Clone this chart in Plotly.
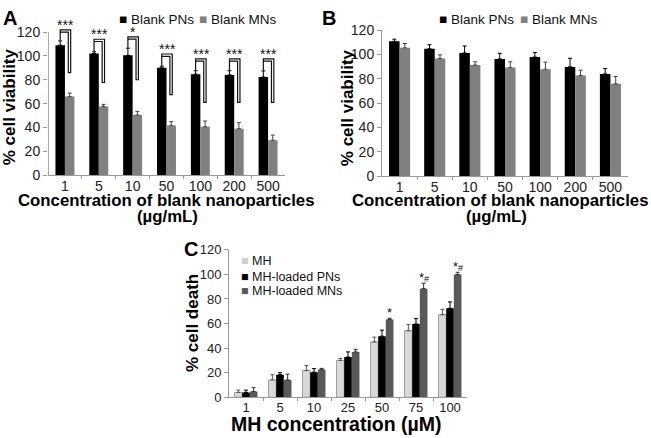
import plotly.graph_objects as go

# ---------------- data ----------------
conc_ab = ["1", "5", "10", "50", "100", "200", "500"]
a_pn = [109, 102, 100.5, 90, 84.7, 84.1, 82.3]
a_pn_err = [3.6, 1.5, 6, 1.4, 2.9, 3.5, 5.1]
a_mn = [65.9, 57.5, 50.5, 41.7, 40.6, 39, 29.3]
a_mn_err = [2.9, 1.9, 3, 3.2, 4.8, 5, 4.3]
a_sig = ["***", "***", "*", "***", "***", "***", "***"]
a_bracket_top = [121.8, 114, 116, 101.6, 97.5, 97.5, 97.5]
a_bracket_end = [86, 77.7, 80, 67.5, 61, 61, 61]

b_pn = [110.8, 104.7, 101.3, 96.3, 97.9, 89.8, 84]
b_pn_err = [1.8, 3.3, 5.7, 4.7, 3.7, 7.1, 4.5]
b_mn = [105.5, 96.6, 91.3, 89.2, 87.9, 82.7, 75.9]
b_mn_err = [3.5, 3.1, 2.7, 4.8, 5.8, 4.4, 6]

conc_c = ["1", "5", "10", "25", "50", "75", "100"]
c_mh = [3.9, 14.1, 21.7, 30, 45, 54.1, 67.2]
c_mh_err = [1.9, 4.2, 4.2, 1.6, 3.9, 5, 4.4]
c_pn = [3.9, 18.3, 20.4, 32.7, 49.7, 59.6, 72.4]
c_pn_err = [1.9, 1.7, 2.9, 4.2, 4.9, 4.4, 5.2]
c_mn = [4.7, 14.1, 22.5, 36.9, 63.3, 88.4, 99.9]
c_mn_err = [3.1, 4.7, 1, 2.1, 1, 4.4, 1.8]
c_sig = ["", "", "", "", "*", "*<span style='font-size:9px'>#</span>", "*<span style='font-size:9px'>#</span>"]

FONT = "Liberation Sans, Arial, sans-serif"
AX = "#9a9a9a"
W, H = 651, 438

def err(vals, color="#222"):
    return dict(type="data", symmetric=False, array=vals, arrayminus=[0] * len(vals),
                thickness=1, width=2, color=color)

fig = go.Figure()
xs = list(range(7))

# Panel A
wA = 0.28
fig.add_bar(x=xs, y=a_pn, width=wA, offset=-wA, marker=dict(color="#000", line_width=0),
            error_y=err(a_pn_err, "#000"), xaxis="x", yaxis="y", name="Blank PNs", showlegend=False)
fig.add_bar(x=xs, y=a_mn, width=wA, offset=0, marker=dict(color="#808080", line_width=0),
            error_y=err(a_mn_err, "#444"), xaxis="x", yaxis="y", name="Blank MNs", showlegend=False)

# Panel B
wB = 0.30
fig.add_bar(x=xs, y=b_pn, width=wB, offset=-wB, marker=dict(color="#000", line_width=0),
            error_y=err(b_pn_err, "#000"), xaxis="x2", yaxis="y2", name="Blank PNs", showlegend=False)
fig.add_bar(x=xs, y=b_mn, width=wB, offset=0, marker=dict(color="#808080", line_width=0),
            error_y=err(b_mn_err, "#444"), xaxis="x2", yaxis="y2", name="Blank MNs", showlegend=False)

# Panel C
wC = 0.225
fig.add_bar(x=xs, y=c_mh, width=wC, offset=-1.5 * wC, marker=dict(color="#d9d9d9", line=dict(color="#8c8c8c", width=0.8)),
            error_y=err(c_mh_err, "#555"), xaxis="x3", yaxis="y3", name="MH", showlegend=False)
fig.add_bar(x=xs, y=c_pn, width=wC, offset=-0.5 * wC, marker=dict(color="#000", line_width=0),
            error_y=err(c_pn_err, "#000"), xaxis="x3", yaxis="y3", name="MH-loaded PNs", showlegend=False)
fig.add_bar(x=xs, y=c_mn, width=wC, offset=0.5 * wC, marker=dict(color="#595959", line_width=0),
            error_y=err(c_mn_err, "#333"), xaxis="x3", yaxis="y3", name="MH-loaded MNs", showlegend=False)

shapes = []
annotations = []

# significance brackets in A (hollow, outlined look)
dy_in = 1.9
dx_in = 0.07
for i in xs:
    xl = i - wA / 2
    xr = i + wA / 2 + 0.03
    ybot = a_pn[i] + a_pn_err[i] + 0.3
    top = a_bracket_top[i]
    end = a_bracket_end[i]
    shapes.append(dict(type="path", xref="x", yref="y",
                       path=f"M {xl},{ybot} L {xl},{top} L {xr},{top} L {xr},{end} L {xr - dx_in},{end} "
                            f"L {xr - dx_in},{top - dy_in} L {xl},{top - dy_in}",
                       line=dict(color="#111", width=1.2)))
    annotations.append(dict(x=i + 0.02, y=top + 4, xref="x", yref="y", text=a_sig[i], showarrow=False,
                            font=dict(size=14, color="#111", family=FONT), xanchor="center", yanchor="middle"))

# A y-axis line (only up to 120)
shapes.append(dict(type="line", xref="x", yref="y", x0=-0.49, x1=-0.49, y0=0, y1=120,
                   line=dict(color=AX, width=1)))

# significance marks in C
for i in xs:
    if c_sig[i]:
        annotations.append(dict(x=i + wC, y=c_mn[i] + c_mn_err[i] + 5, xref="x3", yref="y3",
                                text=c_sig[i], showarrow=False, xanchor="center", yanchor="middle",
                                font=dict(size=13, color="#111", family=FONT)))

def px(x):
    return x / W

def py(y):
    return 1 - y / H

def txt(t, x, y, size, angle=0, xanchor="center"):
    annotations.append(dict(x=px(x), y=py(y), xref="paper", yref="paper", text=t,
                            xanchor=xanchor, yanchor="middle", textangle=angle,
                            showarrow=False, font=dict(size=size, family=FONT, color="#000")))

# panel letters
txt("<b>A</b>", 10, 10, 20)
txt("<b>B</b>", 329, 10, 20)
txt("<b>C</b>", 191, 250, 20)

# y-axis titles
txt("<b>% cell viability</b>", 9, 103, 17, -90)
txt("<b>% cell viability</b>", 347, 104, 17, -90)
txt("<b>% cell death</b>", 192, 327, 17, -90)

# x-axis titles
txt("<b>Concentration of blank nanoparticles</b>", 166, 200, 16.8)
txt("<b>(µg/mL)</b>", 167, 216, 16.8)
txt("<b>Concentration of blank nanoparticles</b>", 500, 200, 16.8)
txt("<b>(µg/mL)</b>", 496, 216, 16.8)
txt("<b>MH concentration (µM)</b>", 336, 432, 19.5)

# legends
def leg(x, y, color, label, size=13):
    annotations.append(dict(x=px(x), y=py(y), xref="paper", yref="paper", xanchor="left", yanchor="middle",
                            text=f"<span style='color:{color}'>■</span> {label}", showarrow=False,
                            font=dict(size=size, family=FONT, color="#111")))

leg(117, 12, "#000", "Blank PNs", 13.5)
leg(197, 12, "#808080", "Blank MNs", 13.5)
leg(437, 12, "#000", "Blank PNs", 13.5)
leg(518, 12, "#808080", "Blank MNs", 13.5)
leg(239, 263, "#cfcfcf", "MH", 12.5)
leg(239, 279, "#000", "MH-loaded PNs", 12.5)
leg(239, 294, "#595959", "MH-loaded MNs", 12.5)

def xaxis(domain, anchor, labels, tsize=14, standoff=0):
    return dict(domain=domain, anchor=anchor, range=[-0.5, 6.5], tickmode="array", tickvals=xs,
                ticktext=labels, ticks="", showline=True, linecolor=AX, linewidth=1,
                ticklabelstandoff=standoff,
                showgrid=False, zeroline=False, tickfont=dict(size=tsize, family=FONT, color="#222"),
                minor=dict(tickmode="array", tickvals=[k + 0.5 for k in range(6)], ticks="outside",
                           ticklen=3, tickcolor=AX, showgrid=False),
                fixedrange=True)

def yaxis(domain, anchor, rng, showline, tsize=14):
    return dict(domain=domain, anchor=anchor, range=rng, tickmode="array", tickvals=[0, 20, 40, 60, 80, 100, 120],
                ticks="outside", ticklen=4, tickcolor=AX, showline=showline, linecolor=AX, linewidth=1,
                showgrid=False, zeroline=False, tickfont=dict(size=tsize, family=FONT, color="#222"),
                fixedrange=True)

# geometry (pixels)
a_x0, a_x1, a_y0, a_y120 = 48, 285, 173.5, 25
a_ppu = (a_y0 - a_y120) / 120
a_top = a_y0 - 130 * a_ppu

fig.update_layout(
    width=W, height=H, margin=dict(l=0, r=0, t=0, b=0),
    paper_bgcolor="white", plot_bgcolor="white",
    font=dict(family=FONT, color="#111"),
    showlegend=False,
    xaxis=xaxis([px(a_x0), px(a_x1)], "y", conc_ab, 14, -2),
    xaxis2=xaxis([px(382), px(628)], "y2", conc_ab, 14, -2),
    xaxis3=xaxis([px(229), px(467)], "y3", conc_c, 13, -2),
    yaxis=yaxis([py(a_y0), py(a_top)], "x", [0, 130], False),
    yaxis2=yaxis([py(174.5), py(23)], "x2", [0, 120], True),
    yaxis3=yaxis([py(404), py(251)], "x3", [0, 120], True, 13),
    shapes=shapes, annotations=annotations,
)

fig.write_html("out.html", config={"displayModeBar": False},
               post_script="document.body.style.margin='0';document.body.style.overflow='hidden';")
